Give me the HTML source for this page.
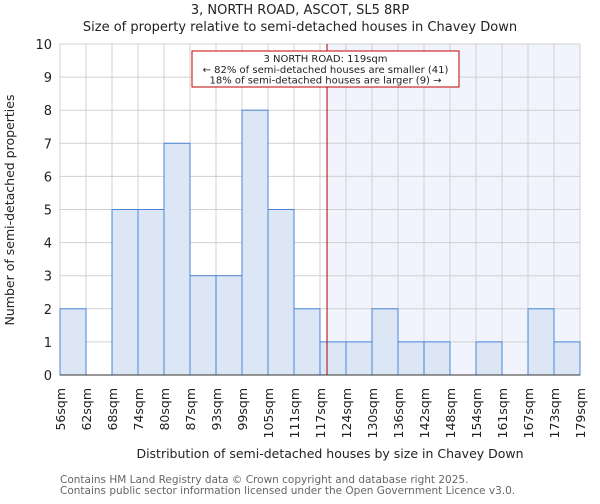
<!DOCTYPE html>
<html><head><meta charset="utf-8"><style>
body{margin:0;background:#fff;font-family:"DejaVu Sans","Liberation Sans",sans-serif;}
svg text{font-family:"DejaVu Sans","Liberation Sans",sans-serif;fill:#222;}
</style></head><body>
<svg id="chart" width="600" height="500">
<text x="300" y="14" text-anchor="middle" font-size="13">3, NORTH ROAD, ASCOT, SL5 8RP</text>
<text x="300" y="31" text-anchor="middle" font-size="13">Size of property relative to semi-detached houses in Chavey Down</text>
<g id="grid"></g><g id="bars"></g><g id="axes"></g>
<text x="330" y="458" text-anchor="middle" font-size="12.5">Distribution of semi-detached houses by size in Chavey Down</text>
<text transform="translate(14,210) rotate(-90)" text-anchor="middle" font-size="12.5">Number of semi-detached properties</text>
<text x="60" y="483" font-size="10.5" style="fill:#666">Contains HM Land Registry data © Crown copyright and database right 2025.</text>
<text x="60" y="494" font-size="10.5" style="fill:#666">Contains public sector information licensed under the Open Government Licence v3.0.</text>
</svg>
<script>
const categories=["56sqm","62sqm","68sqm","74sqm","80sqm","87sqm","93sqm","99sqm","105sqm","111sqm","117sqm","124sqm","130sqm","136sqm","142sqm","148sqm","154sqm","161sqm","167sqm","173sqm","179sqm"];
const counts=[2,0,5,5,7,3,3,8,5,2,1,1,2,1,1,0,1,0,2,1];
const yTicks=[0,1,2,3,4,5,6,7,8,9,10];
const markerIndex=10.27;
const NS="http://www.w3.org/2000/svg";
const L=60,R=580,T=44,B=375,bw=(R-L)/counts.length;
const x=i=>L+i*bw, y=v=>B-(B-T)*v/10;
function mk(tag,attrs,parent,text){const e=document.createElementNS(NS,tag);for(const k in attrs)e.setAttribute(k,attrs[k]);if(text!==undefined)e.textContent=text;document.getElementById(parent).appendChild(e);return e;}
const mx=x(markerIndex);
let e=mk('rect',{x:mx,y:T,width:R-mx,height:B-T,fill:'#f1f4fc'},'grid');


yTicks.forEach(v=>{e=mk('line',{x1:L,x2:R,y1:y(v),y2:y(v),stroke:'#d0d0d0'},'grid');


e=mk('text',{x:L-8,y:y(v)+5,'text-anchor':'end','font-size':13},'axes',v);

});
categories.forEach((c,i)=>{e=mk('line',{x1:x(i),x2:x(i),y1:T,y2:B,stroke:'#d0d0d0'},'grid');


e=mk('text',{transform:`translate(${x(i)+5},388) rotate(-90)`,'text-anchor':'end','font-size':12.5},'axes',c);

});
counts.forEach((v,i)=>{if(v<=0)return;e=mk('rect',{x:x(i),y:y(v),width:bw,height:B-y(v),fill:'#dce6f4',stroke:'#4a86d8','stroke-width':1},'bars');

});
e=mk('line',{x1:mx,x2:mx,y1:T,y2:B,stroke:'#b00000','stroke-width':1},'axes');


e=mk('line',{x1:L,x2:R,y1:B,y2:B,stroke:'#333'},'axes');


e=mk('rect',{x:192,y:51,width:267,height:36,fill:'#fff',stroke:'#c00000'},'axes');


[["3 NORTH ROAD: 119sqm",62],["← 82% of semi-detached houses are smaller (41)",73],["18% of semi-detached houses are larger (9) →",83.5]].forEach(([t,yy])=>{
e=mk('text',{x:325.5,y:yy,'text-anchor':'middle','font-size':10},'axes',t);

});
</script>
</body></html>
